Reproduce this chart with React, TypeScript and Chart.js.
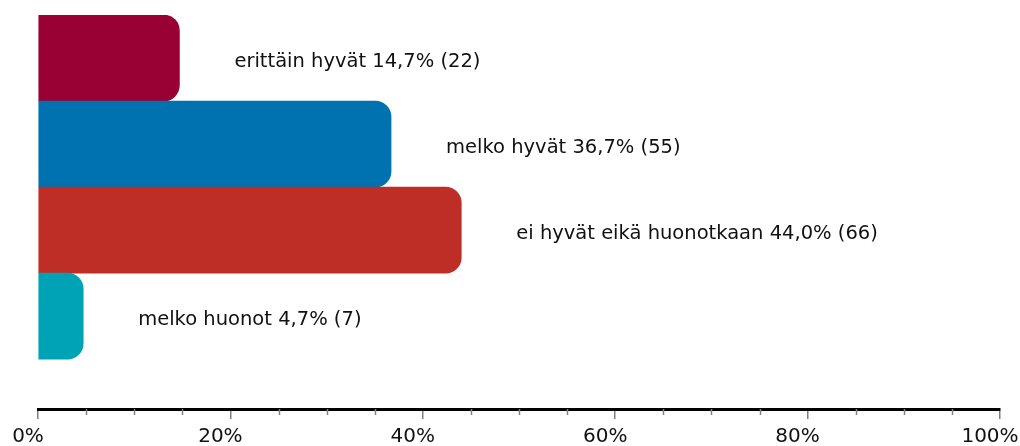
import React, { useEffect, useRef } from "react";
import { Chart, registerables } from "chart.js";

Chart.register(...registerables);

const categories = ["erittäin hyvät", "melko hyvät", "ei hyvät eikä huonotkaan", "melko huonot"];
const percentages = [14.7, 36.7, 44.0, 4.7];
const counts = [22, 55, 66, 7];
const colors = ["#990033", "#0072AF", "#BE2E27", "#00A3B5"];
const tickValues = [0, 20, 40, 60, 80, 100];

const FONT = "'DejaVu Sans', sans-serif";

const fmt = (v: number) => v.toFixed(1).replace(".", ",");

const barLabelPlugin = {
  id: "barLabels",
  afterDatasetsDraw(chart: any) {
    const ctx = chart.ctx;
    const meta = chart.getDatasetMeta(0);
    ctx.save();
    ctx.font = `19.5px ${FONT}`;
    ctx.fillStyle = "#111";
    ctx.textBaseline = "middle";
    ctx.textAlign = "left";
    meta.data.forEach((bar: any, i: number) => {
      const text = `${categories[i]} ${fmt(percentages[i])}% (${counts[i]})`;
      ctx.fillText(text, bar.x + 55, bar.y + 4);
    });
    ctx.restore();
  },
};

const minorTickPlugin = {
  id: "minorTicks",
  afterDraw(chart: any) {
    const sx = chart.scales.x;
    const ctx = chart.ctx;
    const y0 = chart.chartArea.bottom;
    ctx.save();
    ctx.strokeStyle = "#808080";
    ctx.lineWidth = 1.5;
    for (let v = 5; v < 100; v += 5) {
      if (v % 20 === 0) continue;
      const x = Math.round(sx.getPixelForValue(v)) + 0.5;
      ctx.beginPath();
      ctx.moveTo(x, y0);
      ctx.lineTo(x, y0 + 6);
      ctx.stroke();
    }
    ctx.restore();
  },
};

export default function App() {
  const ref = useRef<HTMLCanvasElement>(null);
  useEffect(() => {
    if (!ref.current) return;
    const chart = new Chart(ref.current, {
      type: "bar",
      data: {
        datasets: [
          {
            data: percentages.map((v, i) => ({ x: v, y: i })),
            backgroundColor: colors,
            borderRadius: 16,
            borderSkipped: "start",
            barPercentage: 1,
            categoryPercentage: 1,
          },
        ],
      },
      options: {
        indexAxis: "y",
        animation: false,
        responsive: true,
        maintainAspectRatio: false,
        layout: { padding: { left: 38, right: 20, top: 15, bottom: 0 } },
        plugins: { legend: { display: false }, tooltip: { enabled: false } },
        scales: {
          y: {
            type: "linear",
            reverse: true,
            offset: false,
            min: -0.5,
            max: 4.08,
            display: false,
            afterBuildTicks(scale: any) {
              scale.ticks = categories.map((_, i) => ({ value: i }));
            },
          },
          x: {
            type: "linear",
            position: "bottom",
            min: 0,
            max: 100,
            afterBuildTicks(scale: any) {
              scale.ticks = tickValues.map((v) => ({ value: v }));
            },
            afterFit(scale: any) {
              scale.paddingLeft = 0;
              scale.paddingRight = 0;
              scale.height = 37;
            },
            border: { display: true, color: "#000", width: 3 },
            grid: {
              drawOnChartArea: false,
              drawTicks: true,
              tickLength: 10,
              tickColor: "#808080",
              lineWidth: 1.5,
            },
            ticks: {
              callback: (v: any) => `${v}%`,
              color: "#111",
              font: { family: FONT, size: 20 },
              padding: 6,
              labelOffset: -10,
              maxRotation: 0,
              autoSkip: false,
            },
          },
        },
      },
      plugins: [barLabelPlugin, minorTickPlugin],
    });
    return () => chart.destroy();
  }, []);
  return (
    <div style={{ position: "absolute", left: 0, top: 0, width: 1020, height: 446 }}>
      <canvas ref={ref} />
    </div>
  );
}
